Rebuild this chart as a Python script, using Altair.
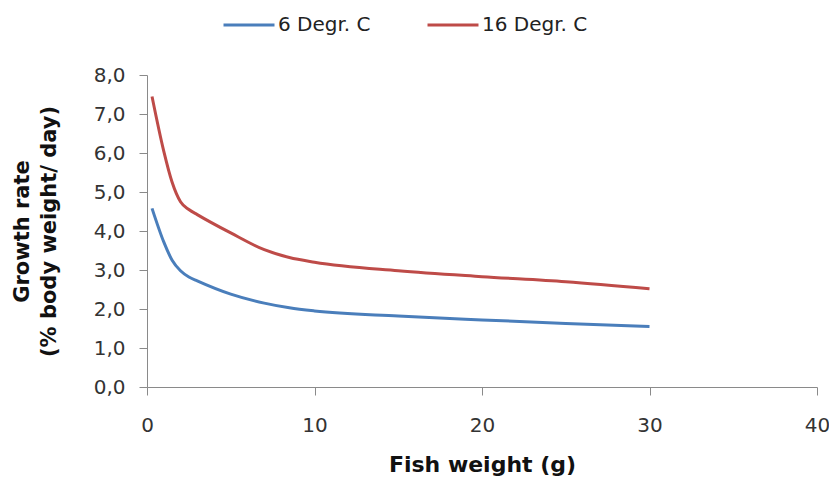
import altair as alt
import pandas as pd

weights = [0.3, 1, 1.5, 2, 2.5, 3, 5, 7, 8.5, 10, 15, 20, 25, 30]
rate_6 = [4.58, 3.72, 3.25, 2.98, 2.82, 2.72, 2.38, 2.15, 2.03, 1.95, 1.82, 1.72, 1.63, 1.55]
rate_16 = [7.45, 6.05, 5.25, 4.75, 4.55, 4.42, 3.95, 3.52, 3.32, 3.2, 2.98, 2.83, 2.7, 2.52]
series = ["6 Degr. C", "16 Degr. C"]
colors = ["#4a7ebb", "#be4b48"]

rows = []
for w, a, b in zip(weights, rate_6, rate_16):
    rows.append({"w": w, "r": a, "s": series[0]})
    rows.append({"w": w, "r": b, "s": series[1]})
df = pd.DataFrame(rows)

FONT = "DejaVu Sans"

chart = alt.Chart(df).mark_line(strokeWidth=3, interpolate="monotone").encode(
    x=alt.X("w:Q", scale=alt.Scale(domain=[0, 40], nice=False),
            axis=alt.Axis(values=[0, 10, 20, 30, 40], title="Fish weight (g)",
                          grid=False, tickSize=8, labelPadding=20, titlePadding=19,
                          labelFontSize=20, titleFontSize=22, titleFontWeight="bold",
                          labelFont=FONT, titleFont=FONT, labelColor="#333333",
                          titleColor="#111111", domainColor="#8a8a8a", tickColor="#8a8a8a",
                          labelFlush=False)),
    y=alt.Y("r:Q", scale=alt.Scale(domain=[0, 8], nice=False),
            axis=alt.Axis(values=[0, 1, 2, 3, 4, 5, 6, 7, 8],
                          labelExpr="replace(format(datum.value, '.1f'), '.', ',')",
                          title=["Growth rate", "(% body weight/ day)"],
                          grid=False, tickSize=8, labelPadding=14, titlePadding=34,
                          labelFontSize=20, titleFontSize=21, titleFontWeight="bold",
                          titleLineHeight=27,
                          labelFont=FONT, titleFont=FONT, labelColor="#333333",
                          titleColor="#111111", domainColor="#8a8a8a", tickColor="#8a8a8a")),
    color=alt.Color("s:N", scale=alt.Scale(domain=series, range=colors),
                    sort=series,
                    legend=alt.Legend(title=None, orient="none", direction="horizontal",
                                      legendX=75, legendY=-77, symbolType="stroke",
                                      symbolSize=2600, symbolStrokeWidth=3,
                                      labelFontSize=20, labelFont=FONT, labelColor="#222222",
                                      labelOffset=2, columnPadding=50)),
).properties(
    width=670, height=312,
    autosize=alt.AutoSizeParams(type="none"),
    padding={"left": 139, "top": 67, "right": 12, "bottom": 91},
).configure_view(stroke=None)

chart.save("out.html", embed_options={"renderer": "svg", "actions": False})
